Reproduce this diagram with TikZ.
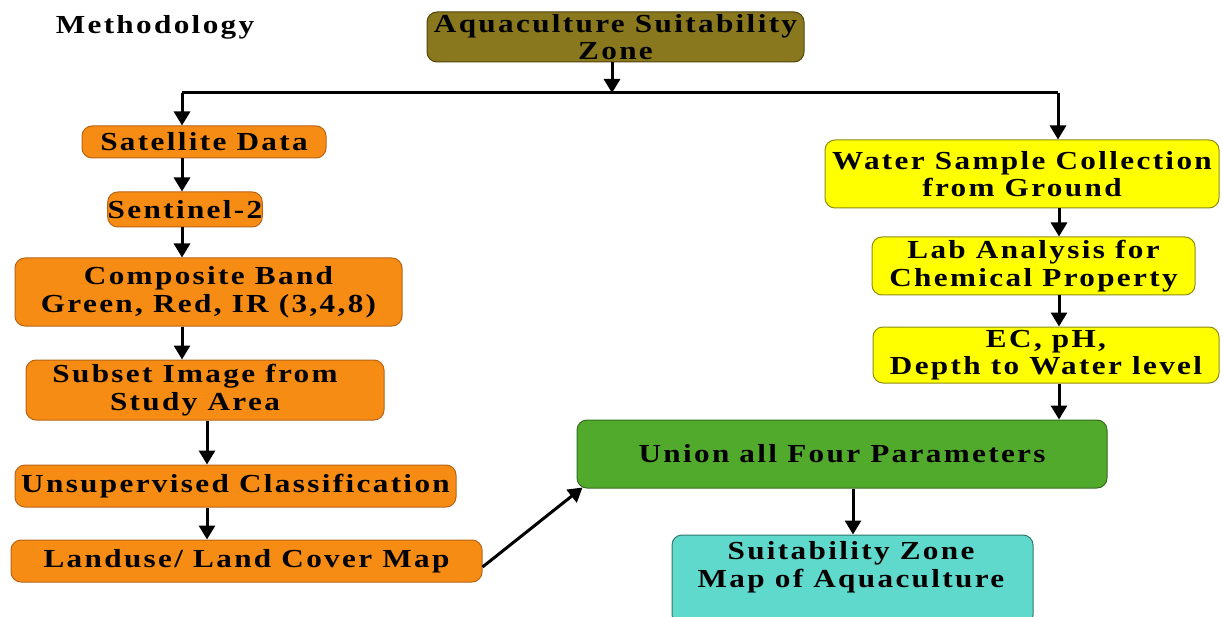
\documentclass[tikz,border=0pt]{standalone}
\usepackage{fontspec}
\setmainfont{Liberation Serif}[LetterSpace=9,FakeStretch=1.2]
\usetikzlibrary{arrows.meta}
\definecolor{olivebox}{RGB}{138,120,30}
\definecolor{oliveline}{RGB}{80,68,10}
\definecolor{orangebox}{RGB}{247,140,20}
\definecolor{orangeline}{RGB}{185,100,20}
\definecolor{yellowbox}{RGB}{255,255,0}
\definecolor{yellowline}{RGB}{140,140,20}
\definecolor{greenbox}{RGB}{82,170,45}
\definecolor{greenline}{RGB}{50,110,30}
\definecolor{cyanbox}{RGB}{95,217,204}
\definecolor{cyanline}{RGB}{50,120,110}
\tikzset{
  boxfont/.style={font=\bfseries\fontsize{26}{27.5}\selectfont},
  box/.style={rounded corners=10pt, line width=1pt, align=center, inner sep=0pt, boxfont},
  orangeb/.style={box, fill=orangebox, draw=orangeline},
  yellowb/.style={box, fill=yellowbox, draw=yellowline},
  arr/.style={line width=3pt, -{Triangle[width=16pt,length=14pt]}},
  plain/.style={line width=3pt},
}
\begin{document}
\begin{tikzpicture}[x=1pt,y=-1pt]
\useasboundingbox (0,0) rectangle (1222,617);
\node[boxfont] (title) at (155,27) {Methodology};
\node[box, fill=olivebox, draw=oliveline, minimum width=377pt, minimum height=50pt] (top) at (615.5,37) {Aquaculture Suitability\\Zone};
\node[orangeb, minimum width=244pt, minimum height=32pt] (sat) at (204,142) {Satellite Data};
\node[orangeb, minimum width=154pt, minimum height=35pt] (sen) at (185,209.5) {Sentinel-2};
\node[orangeb, minimum width=387pt, minimum height=68pt] (comp) at (208.5,292) {Composite Band\\Green, Red, IR (3,4,8)};
\node[orangeb, minimum width=358pt, minimum height=60pt] (sub) at (205,390) {Subset Image from\hspace*{20pt}\\Study Area\hspace*{20pt}};
\node[orangeb, minimum width=441pt, minimum height=42pt] (unsup) at (235.5,486) {Unsupervised Classification};
\node[orangeb, minimum width=471pt, minimum height=42pt] (land) at (246.5,561) {Landuse/ Land Cover Map};
\node[yellowb, minimum width=394pt, minimum height=68pt] (water) at (1022,174) {Water Sample Collection\\from Ground};
\node[yellowb, minimum width=323pt, minimum height=58pt] (lab) at (1033.5,266) {Lab Analysis for\\Chemical Property};
\node[yellowb, minimum width=346pt, minimum height=56pt] (ec) at (1046,355) {EC, pH,\\Depth to Water level};
\node[box, fill=greenbox, draw=greenline, minimum width=530pt, minimum height=68pt] (union) at (842,454) {Union all Four Parameters};
\node[box, fill=cyanbox, draw=cyanline, minimum width=361pt, minimum height=90pt] (map) at (852.5,580) {};
\node[boxfont, align=center] (maptext) at (851,567) {Suitability Zone\\Map of Aquaculture};

\coordinate (j) at (612,93);
\coordinate (jl) at (182,93);
\coordinate (jr) at (1058,93);
\coordinate (c207) at (207,0);
\coordinate (rx) at (1059,0);
\coordinate (ux) at (853,0);

\draw[arr] (j |- top.south) -- (j);
\draw[plain] (jl) -- (jr);
\draw[arr] (jl) -- (jl |- sat.north);
\draw[arr] (jr) -- (jr |- water.north);
\draw[arr] (sat.south -| jl) -- (sen.north -| jl);
\draw[arr] (sen.south -| jl) -- (comp.north -| jl);
\draw[arr] (comp.south -| jl) -- (sub.north -| jl);
\draw[arr] (sub.south -| c207) -- (unsup.north -| c207);
\draw[arr] (unsup.south -| c207) -- (land.north -| c207);
\draw[arr] ([yshift=-6pt]land.east) -- ([xshift=6pt,yshift=1pt]union.south west);
\draw[arr] (water.south -| rx) -- (lab.north -| rx);
\draw[arr] (lab.south -| rx) -- (ec.north -| rx);
\draw[arr] (ec.south -| rx) -- (union.north -| rx);
\draw[arr] (union.south -| ux) -- (map.north -| ux);
\end{tikzpicture}
\end{document}
